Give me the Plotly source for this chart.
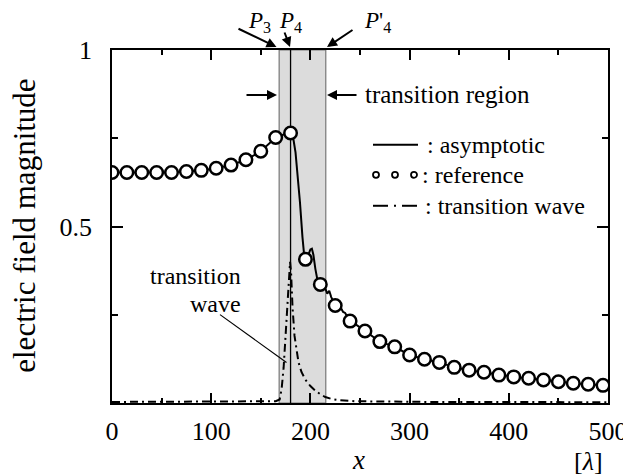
import plotly.graph_objects as go

# ---------------- data ----------------
ref_x = [0, 15, 30, 45, 60, 75, 90, 105, 120, 135, 150, 165, 180, 195, 210, 225,
         240, 255, 270, 285, 300, 315, 330, 345, 360, 375, 390, 405, 420, 435,
         450, 465, 480, 495]
ref_y = [0.653, 0.653, 0.653, 0.653, 0.653, 0.656, 0.659, 0.665, 0.674, 0.689,
         0.713, 0.752, 0.765, 0.407, 0.336, 0.276, 0.232, 0.204, 0.174, 0.159,
         0.136, 0.124, 0.115, 0.101, 0.093, 0.087, 0.079, 0.074, 0.070, 0.065,
         0.060, 0.056, 0.053, 0.050]

asym_x = [0, 15, 30, 45, 60, 75, 90, 105, 120, 135, 150, 165, 173, 178, 181, 183,
          185, 187, 189.5, 192, 194, 196, 198, 200, 201.5, 203, 205, 207, 209, 211,
          213, 215, 217, 219, 221, 223, 225, 227, 229, 231, 233, 235, 237, 240, 245,
          250, 255, 270, 285, 300, 315, 330, 345, 360, 375, 390, 405, 420, 435, 450,
          465, 480, 495]
asym_y = [0.653, 0.653, 0.653, 0.653, 0.653, 0.656, 0.659, 0.665, 0.674, 0.689,
          0.713, 0.752, 0.762, 0.766, 0.762, 0.745, 0.71, 0.65, 0.568, 0.47, 0.41,
          0.405, 0.42, 0.435, 0.437, 0.42, 0.38, 0.35, 0.337, 0.34, 0.35, 0.325,
          0.31, 0.318, 0.30, 0.29, 0.277, 0.28, 0.265, 0.268, 0.258, 0.255, 0.245,
          0.232, 0.224, 0.213, 0.204, 0.174, 0.159, 0.136, 0.124, 0.115, 0.101,
          0.093, 0.087, 0.079, 0.074, 0.070, 0.065, 0.060, 0.056, 0.053, 0.050]

trans_x = [0, 50, 100, 150, 165, 169, 171, 173, 175, 177, 178.5, 179.5, 180.5, 182,
           184, 186, 188, 191, 195, 200, 205, 210, 215, 222, 230, 245, 270, 320,
           400, 500]
trans_y = [0.003, 0.003, 0.003, 0.004, 0.005, 0.01, 0.04, 0.1, 0.19, 0.3, 0.37,
           0.40, 0.37, 0.27, 0.19, 0.145, 0.115, 0.088, 0.066, 0.048, 0.035, 0.025,
           0.017, 0.011, 0.008, 0.005, 0.004, 0.003, 0.003, 0.002]

region = [168.5, 215.5]   # transition region (P3 .. P'4)
p4 = 180                  # P4 position

x_ticks = [0, 100, 200, 300, 400, 500]
y_ticks = [0.5, 1]
y_ticktext = ["0.5", "1"]

FONT = "Liberation Serif"

# page has an 8px body margin: figure drawn at page offset (8, 8)
OFF = 8
W, H = 631 - OFF, 475 - OFF
# plot area in page pixels
L, R, T, B = 112, 608, 50, 403.5
def X(px):
    return (px - L) / (R - L)
def Y(py):
    return (B - py) / (B - T)

fig = go.Figure()

fig.add_trace(go.Scatter(x=trans_x, y=trans_y, mode="lines",
                         line=dict(color="black", width=2, dash="8px,4px,2px,4px"),
                         showlegend=False, cliponaxis=False))
fig.add_trace(go.Scatter(x=asym_x, y=asym_y, mode="lines",
                         line=dict(color="black", width=2), showlegend=False))
fig.add_trace(go.Scatter(x=ref_x, y=ref_y, mode="markers",
                         marker=dict(symbol="circle", size=12.5, color="white",
                                     line=dict(color="black", width=2.5)),
                         showlegend=False))

shapes = []
shapes.append(dict(type="rect", xref="x", yref="y", x0=region[0], x1=region[1],
                   y0=0, y1=1, fillcolor="#dcdcdc", line=dict(color="#777777", width=1.2),
                   layer="below"))
shapes.append(dict(type="line", xref="x", yref="y", x0=p4, x1=p4, y0=0, y1=1,
                   line=dict(color="black", width=1.3), layer="below"))
# pointer line for "transition wave" label
shapes.append(dict(type="line", xref="paper", yref="paper", x0=X(220), y0=Y(315),
                   x1=X(286.5), y1=Y(363), line=dict(color="black", width=1.2)))

# legend samples
shapes.append(dict(type="line", xref="paper", yref="paper", x0=X(373), x1=X(418),
                   y0=Y(145), y1=Y(145), line=dict(color="black", width=2)))
for cx in [376, 395, 414]:
    shapes.append(dict(type="circle", xref="paper", yref="paper", x0=X(cx - 3), x1=X(cx + 3),
                       y0=Y(175 + 3), y1=Y(175 - 3), line=dict(color="black", width=1.8),
                       fillcolor="white"))
for a, b in [(373, 388), (394, 396), (402, 417)]:
    shapes.append(dict(type="line", xref="paper", yref="paper", x0=X(a), x1=X(b),
                       y0=Y(206), y1=Y(206), line=dict(color="black", width=2)))

ann = []
def txt(px, py, s, size=25, xanchor="left"):
    ann.append(dict(x=X(px), y=Y(py), xref="paper", yref="paper", text=s, showarrow=False,
                    xanchor=xanchor, yanchor="middle",
                    font=dict(family=FONT, size=size, color="black")))

def arrow(hx, hy, tx, ty):
    ann.append(dict(x=X(hx), y=Y(hy), xref="paper", yref="paper", ax=tx - hx, ay=ty - hy,
                    text="", showarrow=True,
                    arrowhead=2, arrowsize=1, arrowwidth=2, arrowcolor="black"))

txt(425, 145, ": asymptotic", 24)
txt(420, 175, ": reference", 24)
txt(423, 206, ": transition wave", 24)
txt(363, 95, "transition region", 25)
txt(243, 276, "transition", 24, xanchor="right")
txt(243, 304, "wave", 24, xanchor="right")
txt(259, 22, "<i>P</i><sub>3</sub>", 23, xanchor="center")
txt(290, 22, "<i>P</i><sub>4</sub>", 23, xanchor="center")
txt(377, 22, "<i>P</i>'<sub>4</sub>", 23, xanchor="center")
txt(358, 461, "<i>x</i>", 27, xanchor="center")
txt(588, 462, "[<i>λ</i>]", 26, xanchor="center")

arrow(276.5, 47, 237, 28)
arrow(290, 47, 284, 31)
arrow(327, 47, 354, 29)
arrow(277, 95, 245, 95)
arrow(327, 95, 358, 95)

ann.append(dict(x=X(25), y=Y(226), xref="paper", yref="paper",
                text="electric field magnitude", textangle=-90, showarrow=False,
                xanchor="center", yanchor="middle",
                font=dict(family=FONT, size=31, color="black")))

fig.update_layout(
    width=W, height=H,
    margin=dict(l=L - OFF, r=OFF + W - R, t=T - OFF, b=OFF + H - B, pad=0),
    paper_bgcolor="white", plot_bgcolor="white",
    shapes=shapes, annotations=ann,
    font=dict(family=FONT, size=26, color="black"),
    showlegend=False,
)
fig.update_xaxes(range=[0, 500], tickvals=x_ticks, ticks="inside", ticklen=10,
                 tickwidth=1.5, tickcolor="black", showline=True, linecolor="black",
                 linewidth=1.5, mirror="ticks", showgrid=False, zeroline=False,
                 automargin=False,
                 tickfont=dict(family=FONT, size=26), ticklabelstandoff=4,
                 minor=dict(dtick=50, tick0=0, ticks="inside", ticklen=5,
                            tickwidth=1.5, tickcolor="black", showgrid=False))
fig.update_yaxes(range=[0, 1], tickvals=y_ticks, ticktext=y_ticktext, ticks="inside",
                 ticklen=11, tickwidth=1.5, tickcolor="black", showline=True,
                 linecolor="black", linewidth=1.5, mirror="ticks", showgrid=False,
                 zeroline=False, automargin=False,
                 tickfont=dict(family=FONT, size=26),
                 ticklabelstandoff=13,
                 minor=dict(dtick=0.25, tick0=0, ticks="inside", ticklen=6,
                            tickwidth=1.5, tickcolor="black", showgrid=False))

fig.write_html("out.html")
